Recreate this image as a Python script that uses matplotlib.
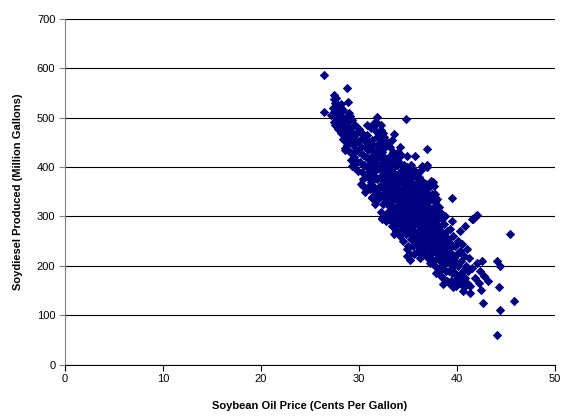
import matplotlib
matplotlib.use("Agg")
import matplotlib.pyplot as plt

plt.rcParams['font.family'] = ['Liberation Sans', 'DejaVu Sans']

# (price in cents per gallon, soydiesel in million gallons)
upper_tail = [
    (26.4, 586), (28.8, 561), (27.5, 537), (27.7, 540), (28.9, 531), (26.4, 512),
    (27.4, 511), (27.9, 520), (28.3, 517), (27.6, 490), (28.4, 496), (29.1, 503),
    (31.8, 502), (31.8, 490), (32.2, 475), (34.8, 498), (33.6, 468), (36.9, 437),
    (35.7, 422), (34.9, 422), (36.9, 404), (36.4, 403), (37.6, 369), (39.5, 337),
    (29.3, 402), (28.6, 435), (28.4, 456), (27.6, 486), (30.4, 361), (31.3, 337),
    (32.3, 297), (37.3, 372), (37.8, 345), (37.7, 362),
]

band_27_31 = [
    (27.1, 505), (27.4, 492), (27.6, 530), (27.8, 500), (27.9, 478), (27.3, 520),
    (27.7, 512), (28.0, 488), (27.5, 546), (27.9, 525),
    (28.1, 505), (28.2, 470), (28.3, 490), (28.4, 515), (28.5, 455), (28.5, 480),
    (28.6, 500), (28.7, 462), (28.8, 445), (28.8, 490), (28.9, 470), (29.0, 510),
    (28.2, 528), (28.6, 438), (29.0, 452),
    (29.1, 480), (29.1, 430), (29.2, 460), (29.3, 495), (29.4, 445), (29.4, 470),
    (29.5, 420), (29.6, 485), (29.6, 455), (29.7, 435), (29.8, 470), (29.8, 410),
    (29.9, 450), (30.0, 430), (30.0, 478), (29.5, 400), (29.9, 392), (29.2, 415),
    (30.1, 455), (30.1, 410), (30.2, 440), (30.3, 470), (30.3, 390), (30.4, 425),
    (30.4, 375), (30.5, 455), (30.5, 405), (30.6, 440), (30.7, 385), (30.7, 420),
    (30.8, 465), (30.8, 400), (30.9, 360), (30.9, 435), (31.0, 415), (31.0, 378),
    (30.2, 365), (30.6, 350), (31.0, 450), (30.8, 485),
]

band_31_34 = [
    (31.1, 440), (31.1, 395), (31.2, 420), (31.2, 370), (31.3, 455), (31.3, 340),
    (31.4, 405), (31.4, 385), (31.5, 430), (31.5, 360), (31.6, 475), (31.6, 410),
    (31.7, 395), (31.7, 350), (31.8, 445), (31.8, 375), (31.9, 420), (31.9, 335),
    (32.0, 400), (32.0, 360), (31.2, 480), (31.5, 490), (31.8, 460), (31.6, 325),
    (31.9, 470), (31.4, 445), (31.1, 355), (32.0, 440), (31.7, 430), (31.3, 400),
    (32.1, 420), (32.1, 380), (32.1, 340), (32.2, 455), (32.2, 400), (32.2, 310),
    (32.3, 365), (32.3, 430), (32.4, 390), (32.4, 345), (32.5, 410), (32.5, 325),
    (32.5, 470), (32.6, 375), (32.6, 355), (32.7, 440), (32.7, 395), (32.7, 300),
    (32.8, 415), (32.8, 365), (32.8, 335), (32.9, 385), (32.9, 450), (33.0, 345),
    (33.0, 405), (33.0, 310), (32.3, 295), (32.6, 420), (32.9, 360), (32.4, 445),
    (32.2, 485), (32.6, 462), (33.0, 375), (32.8, 290), (32.1, 360), (32.5, 385),
    (32.9, 325), (32.7, 350),
    (33.1, 420), (33.1, 380), (33.1, 340), (33.1, 300), (33.2, 395), (33.2, 355),
    (33.2, 440), (33.3, 320), (33.3, 370), (33.3, 410), (33.4, 345), (33.4, 390),
    (33.4, 280), (33.5, 430), (33.5, 360), (33.5, 310), (33.6, 400), (33.6, 335),
    (33.6, 375), (33.7, 295), (33.7, 350), (33.7, 420), (33.8, 385), (33.8, 320),
    (33.8, 270), (33.9, 365), (33.9, 405), (33.9, 340), (34.0, 300), (34.0, 380),
    (34.0, 355), (34.0, 430), (33.2, 325), (33.5, 385), (33.8, 350), (33.3, 290),
    (33.6, 310), (33.9, 285), (33.4, 455), (33.7, 380), (33.1, 360), (34.0, 320),
    (33.5, 340), (33.8, 405), (33.6, 265),
]

band_34_37 = [
    (34.1, 410), (34.1, 370), (34.1, 330), (34.1, 290), (34.2, 390), (34.2, 350),
    (34.2, 310), (34.2, 260), (34.3, 425), (34.3, 370), (34.3, 335), (34.3, 280),
    (34.4, 395), (34.4, 355), (34.4, 300), (34.5, 380), (34.5, 320), (34.5, 345),
    (34.5, 250), (34.6, 405), (34.6, 365), (34.6, 290), (34.7, 335), (34.7, 375),
    (34.7, 270), (34.8, 355), (34.8, 310), (34.8, 390), (34.9, 325), (34.9, 285),
    (34.9, 360), (35.0, 345), (35.0, 300), (35.0, 240), (35.0, 380), (34.2, 440),
    (34.4, 325), (34.6, 315), (34.8, 340), (34.3, 305), (34.7, 300), (34.9, 400),
    (34.1, 350), (34.5, 365), (34.6, 340), (34.4, 275), (34.8, 265), (34.9, 235),
    (34.2, 285), (35.0, 320),
    (35.1, 390), (35.1, 350), (35.1, 310), (35.1, 270), (35.2, 370), (35.2, 330),
    (35.2, 290), (35.2, 225), (35.3, 405), (35.3, 345), (35.3, 300), (35.3, 255),
    (35.4, 380), (35.4, 320), (35.4, 280), (35.5, 360), (35.5, 300), (35.5, 335),
    (35.5, 240), (35.6, 395), (35.6, 345), (35.6, 270), (35.7, 315), (35.7, 365),
    (35.7, 250), (35.8, 335), (35.8, 290), (35.8, 380), (35.9, 305), (35.9, 265),
    (35.9, 350), (36.0, 325), (36.0, 285), (36.0, 230), (36.0, 370), (35.1, 330),
    (35.4, 360), (35.6, 310), (35.8, 320), (35.3, 280), (35.7, 295), (35.9, 330),
    (35.2, 350), (35.5, 280), (35.6, 225), (35.4, 260), (35.8, 245), (35.9, 385),
    (36.0, 305), (35.3, 320),
    (36.1, 380), (36.1, 340), (36.1, 295), (36.1, 255), (36.2, 360), (36.2, 315),
    (36.2, 275), (36.2, 215), (36.3, 395), (36.3, 330), (36.3, 290), (36.3, 240),
    (36.4, 350), (36.4, 305), (36.4, 265), (36.5, 370), (36.5, 285), (36.5, 320),
    (36.5, 225), (36.6, 340), (36.6, 300), (36.6, 255), (36.7, 275), (36.7, 355),
    (36.7, 230), (36.8, 315), (36.8, 270), (36.8, 365), (36.9, 290), (36.9, 245),
    (36.9, 330), (37.0, 305), (37.0, 260), (37.0, 215), (37.0, 345), (36.1, 320),
    (36.4, 280), (36.6, 320), (36.8, 295), (36.3, 255), (36.7, 300), (36.9, 400),
    (36.2, 235), (36.5, 245), (37.0, 280),
]

band_37_43 = [
    (37.1, 360), (37.1, 320), (37.1, 280), (37.1, 240), (37.2, 300), (37.2, 260),
    (37.2, 205), (37.3, 335), (37.3, 280), (37.3, 225), (37.4, 315), (37.4, 250),
    (37.4, 290), (37.5, 270), (37.5, 230), (37.5, 345), (37.6, 300), (37.6, 250),
    (37.6, 210), (37.7, 320), (37.7, 275), (37.7, 235), (37.8, 290), (37.8, 255),
    (37.8, 200), (37.9, 265), (37.9, 230), (37.9, 310), (38.0, 280), (38.0, 245),
    (38.0, 215), (37.2, 340), (37.5, 295), (37.8, 330), (37.3, 255), (37.6, 275),
    (37.9, 185), (38.0, 335),
    (38.1, 300), (38.1, 260), (38.1, 225), (38.2, 280), (38.2, 240), (38.2, 190),
    (38.3, 310), (38.3, 255), (38.3, 210), (38.4, 270), (38.4, 230), (38.5, 295),
    (38.5, 250), (38.5, 200), (38.6, 265), (38.6, 220), (38.6, 175), (38.7, 285),
    (38.7, 240), (38.8, 255), (38.8, 205), (38.9, 230), (38.9, 190), (39.0, 270),
    (39.0, 215), (39.0, 170), (38.4, 180), (38.8, 300), (38.2, 320), (38.9, 250),
    (39.1, 255), (39.1, 215), (39.2, 235), (39.2, 190), (39.3, 275), (39.3, 205),
    (39.4, 245), (39.4, 170), (39.5, 225), (39.5, 185), (39.6, 260), (39.6, 200),
    (39.7, 215), (39.7, 165), (39.8, 240), (39.8, 185), (39.9, 205), (40.0, 225),
    (40.0, 175), (39.5, 290), (39.9, 160), (39.2, 165),
    (40.1, 250), (40.1, 200), (40.2, 180), (40.3, 230), (40.4, 165), (40.4, 210),
    (40.5, 245), (40.6, 190), (40.6, 150), (40.7, 220), (40.8, 175), (40.9, 200),
    (41.0, 165), (41.0, 235), (40.3, 270), (40.8, 280),
    (41.1, 190), (41.2, 215), (41.3, 160), (41.5, 195), (41.6, 295), (41.8, 175),
    (41.9, 300), (42.0, 205), (42.2, 165), (42.3, 190), (42.6, 210), (42.8, 180),
]

lower_tail = [
    (42.0, 304), (41.5, 294), (45.4, 264), (44.1, 209), (44.4, 200), (43.2, 170),
    (44.3, 158), (42.7, 124), (44.4, 111), (45.8, 129), (44.1, 60), (38.6, 164),
    (39.6, 158), (41.3, 145), (40.7, 158), (42.4, 152), (34.9, 219), (35.2, 212),
]

points = upper_tail + band_27_31 + band_31_34 + band_34_37 + band_37_43 + lower_tail
price = [p[0] for p in points]
gallons = [p[1] for p in points]

fig = plt.figure(figsize=(5.62, 4.16), dpi=100)
ax = fig.add_axes([0.1157, 0.1236, 0.8718, 0.8307])

ax.scatter(price, gallons, marker='D', s=23, color='#000080', linewidths=0, zorder=3)

ax.set_xlim(0, 50)
ax.set_ylim(0, 700)
ax.set_xticks(range(0, 51, 10))
ax.set_yticks(range(0, 701, 100))
ax.grid(axis='y', color='black', linewidth=0.8, zorder=1)
ax.set_axisbelow(True)

for side in ['top', 'right']:
    ax.spines[side].set_visible(False)
ax.spines['left'].set_color('#808080')
ax.spines['bottom'].set_color('black')
ax.tick_params(direction='out', length=4, labelsize=8, colors='black', pad=3)
ax.tick_params(axis='y', color='#808080')

ax.set_xlabel('Soybean Oil Price (Cents Per Gallon)', fontsize=8, fontweight='bold', labelpad=12)
ax.set_ylabel('Soydiesel Produced (Million Gallons)', fontsize=8, fontweight='bold', labelpad=10)

fig.savefig('out.png', dpi=100)
